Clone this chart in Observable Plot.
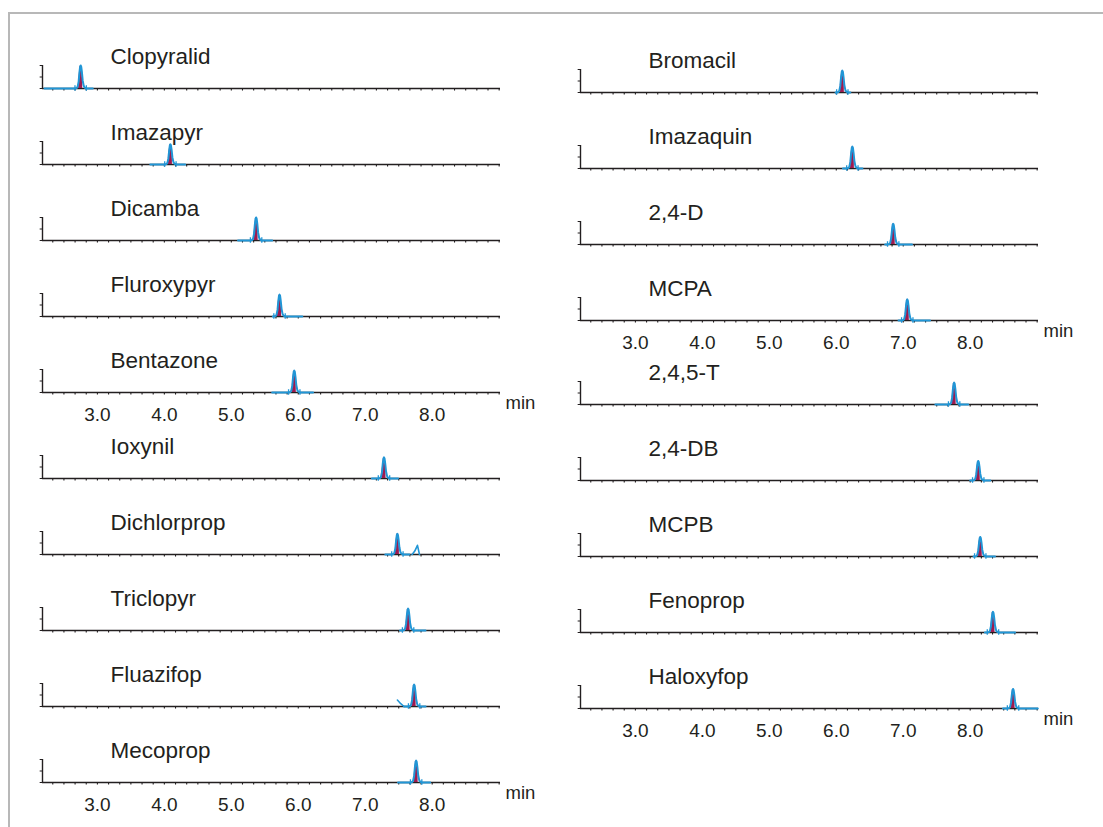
<!DOCTYPE html>
<html>
<head>
<meta charset="utf-8">
<script src="https://cdn.jsdelivr.net/npm/d3@7"></script>
<script src="https://cdn.jsdelivr.net/npm/@observablehq/plot@0.6"></script>
<style>
  html, body { margin: 0; padding: 0; background: #fff; }
  #root { position: relative; width: 1103px; height: 827px; overflow: hidden; font-family: "Liberation Sans", Arial, sans-serif; }
  #frame { position: absolute; left: 8px; top: 12px; width: 1200px; height: 900px; border-top: 2px solid #b8b8b8; border-left: 2px solid #b8b8b8; }
  .panel { position: absolute; }
</style>
</head>
<body>
<div id="root"><div id="frame"></div></div>
<script>
// ---- data ----
const leftCompounds   = ["Clopyralid","Imazapyr","Dicamba","Fluroxypyr","Bentazone","Ioxynil","Dichlorprop","Triclopyr","Fluazifop","Mecoprop"];
const leftRT          = [2.75, 4.09, 5.37, 5.72, 5.94, 7.28, 7.48, 7.64, 7.73, 7.76];
const leftHeight      = [1.00, 0.88, 1.00, 0.95, 0.95, 0.92, 0.90, 0.95, 0.95, 0.95];
const leftTraceStart  = [2.21, 3.79, 5.10, 5.62, 5.61, 7.10, 7.30, 7.52, 7.58, 7.49];
const leftTraceEnd    = [2.93, 4.31, 5.61, 6.06, 6.22, 7.49, 7.66, 7.90, 7.90, 7.97];

const rightCompounds  = ["Bromacil","Imazaquin","2,4-D","MCPA","2,4,5-T","2,4-DB","MCPB","Fenoprop","Haloxyfop"];
const rightRT         = [6.09, 6.24, 6.85, 7.06, 7.76, 8.12, 8.15, 8.34, 8.64];
const rightHeight     = [0.95, 0.95, 0.90, 0.92, 0.95, 0.85, 0.85, 0.90, 0.85];
const rightTraceStart = [5.99, 6.10, 6.73, 6.93, 7.48, 8.00, 8.05, 8.22, 8.49];
const rightTraceEnd   = [6.21, 6.39, 7.13, 7.40, 7.97, 8.30, 8.37, 8.67, 9.01];

// shared peak shape (offset from apex in min, relative intensity)
const profileOffset = [-0.085, -0.06, -0.045, -0.03, -0.018, -0.008, 0, 0.008, 0.018, 0.03, 0.045, 0.06, 0.085];
const profileLevel  = [0, 0.02, 0.08, 0.30, 0.70, 0.95, 1, 0.95, 0.72, 0.35, 0.12, 0.04, 0];

// small extra features in two traces
const extraCompounds = ["Dichlorprop", "Fluazifop"];
const extraTimes  = [[7.70, 7.74, 7.78, 7.81], [7.48, 7.53, 7.58]];
const extraLevels = [[0, 0.15, 0.40, 0], [0.28, 0.12, 0]];

const tickValues = [3, 4, 5, 6, 7, 8];
const tickLabels = ["3.0", "4.0", "5.0", "6.0", "7.0", "8.0"];
const axisUnit = "min";
const xDomain = [2.18, 9.02];
const minorTicks = d3.range(14, 55).map(k => k / 6).filter(t => t >= xDomain[0] && t <= xDomain[1]);

// ---- layout ----
const FONT = "Liberation Sans, Arial, sans-serif";
const BLUE = "#2196d6";
const CRIMSON = "#9e1a4f";
const INK = "#231f20";
const PW = 560, PH = 110, BASE = 60, PEAK = 23, XW = 458;

function panel(name, rt, h, t0, t1, showAxis) {
  const trace = [{t: t0, v: 0}];
  profileOffset.forEach((o, i) => trace.push({t: rt + o, v: h * profileLevel[i]}));
  trace.push({t: t1, v: 0});
  const fill = profileOffset.map((o, i) => ({t: rt + o, v: h * profileLevel[i]})).filter(d => Math.abs(d.t - rt) <= 0.031);
  const marks = [
    // axis baseline + ticks
    Plot.ruleY([0], {x1: xDomain[0], x2: xDomain[1], stroke: INK, strokeWidth: 1.4}),
    Plot.ruleX(minorTicks, {x: d => d, y1: 0, y2: -0.11, stroke: INK, strokeWidth: 1.1}),
    // y bracket
    Plot.ruleX([xDomain[0]], {y1: 0, y2: 1, stroke: INK, strokeWidth: 1.4}),
    Plot.ruleY([0, 0.5, 1], {x1: xDomain[0] - 0.035, x2: xDomain[0], stroke: INK, strokeWidth: 1}),
    // title
    Plot.text([name], {frameAnchor: "top-left", dx: 68, dy: -9, textAnchor: "start", lineAnchor: "middle", fontSize: 22.5, fill: INK}),
    // peak fill + trace
    Plot.areaY(fill, {x: "t", y: "v", fill: CRIMSON, curve: "linear"}),
    Plot.line(trace, {x: "t", y: "v", stroke: BLUE, strokeWidth: 2, curve: "linear"}),
    Plot.ruleX([rt - 0.085, rt + 0.085], {y1: -0.12, y2: 0.12, stroke: BLUE, strokeWidth: 1.3})
  ];
  const e = extraCompounds.indexOf(name);
  if (e >= 0) {
    marks.push(Plot.line(extraTimes[e].map((t, i) => ({t, v: extraLevels[e][i]})), {x: "t", y: "v", stroke: BLUE, strokeWidth: 1.6}));
  }
  if (showAxis) {
    marks.push(Plot.text(tickValues, {x: d => d, y: 0, text: (d, i) => tickLabels[i], dy: 22, lineAnchor: "middle", fontSize: 19, fill: INK}));
    marks.push(Plot.text([axisUnit], {frameAnchor: "bottom-right", dx: 5, dy: 11, textAnchor: "start", lineAnchor: "middle", fontSize: 18.5, fill: INK}));
  }
  return Plot.plot({
    width: PW, height: PH,
    marginLeft: 42, marginRight: PW - 42 - XW,
    marginTop: BASE - PEAK, marginBottom: PH - BASE,
    x: {domain: xDomain, axis: null},
    y: {domain: [0, 1], axis: null},
    style: {background: "transparent", overflow: "visible", fontFamily: FONT},
    marks
  });
}

const root = document.getElementById("root");
function column(names, rts, hs, t0s, t1s, left, firstBase, pitch, gap, axisAfter) {
  names.forEach((name, i) => {
    const base = firstBase + i * pitch + (i > axisAfter[0] ? gap : 0);
    const div = document.createElement("div");
    div.className = "panel";
    div.style.left = left + "px";
    div.style.top = (base - BASE) + "px";
    div.appendChild(panel(name, rts[i], hs[i], t0s[i], t1s[i], axisAfter.includes(i)));
    root.appendChild(div);
  });
}
column(leftCompounds, leftRT, leftHeight, leftTraceStart, leftTraceEnd, 0, 88, 76, 10, [4, 9]);
column(rightCompounds, rightRT, rightHeight, rightTraceStart, rightTraceEnd, 538, 92, 76, 8, [3, 8]);
</script>
</body>
</html>
